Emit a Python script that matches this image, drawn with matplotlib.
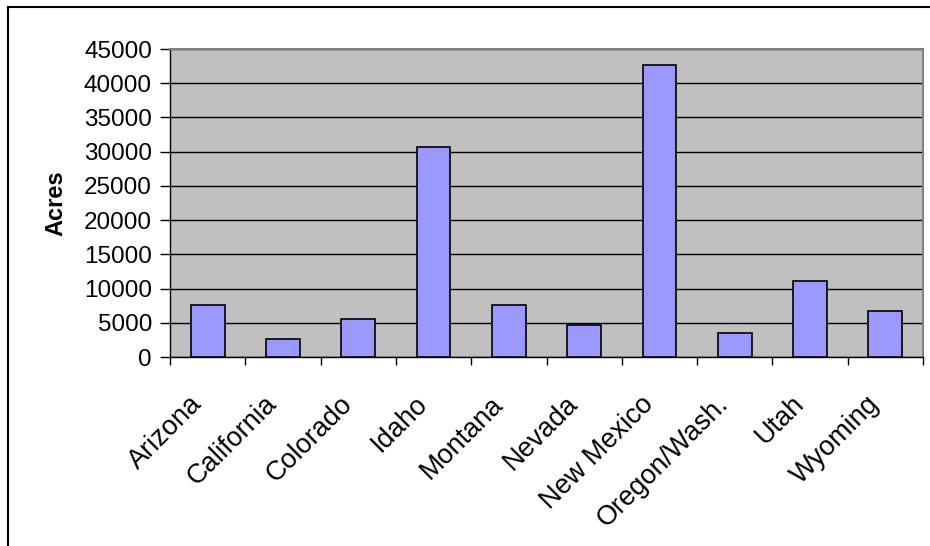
import matplotlib
matplotlib.use("Agg")
import matplotlib.pyplot as plt
import matplotlib.transforms as mtransforms
from matplotlib.lines import Line2D
import numpy as np

plt.rcParams['font.family'] = ['Liberation Sans', 'DejaVu Sans']

states = ['Arizona', 'California', 'Colorado', 'Idaho', 'Montana', 'Nevada',
          'New Mexico', 'Oregon/Wash.', 'Utah', 'Wyoming']
acres = [7600, 2650, 5550, 30650, 7600, 4650, 42650, 3500, 11050, 6700]
yticks = [0, 5000, 10000, 15000, 20000, 25000, 30000, 35000, 40000, 45000]

fig = plt.figure(figsize=(9.3, 5.46), dpi=100)
ax = fig.add_axes([170/930, 1 - 357/546, (923 - 170)/930, (357 - 49)/546])

x = np.arange(len(states))
ax.set_facecolor('#C0C0C0')
ax.bar(x, acres, width=0.45, color='#9999FF', edgecolor='black', linewidth=1.2, zorder=3)

ax.set_xlim(-0.5, len(states) - 0.5)
ax.set_ylim(0, 45000)
ax.set_yticks(yticks)
ax.set_yticklabels([str(v) for v in yticks], fontsize=17.5)
ax.yaxis.grid(True, color='black', linewidth=1, zorder=1)
ax.set_axisbelow(True)

ax.set_xticks(x)
ax.set_xticklabels(states, rotation=45, ha='right', va='center',
                   rotation_mode='anchor', fontsize=19.5)
ax.set_xticks(np.arange(-0.5, len(states), 1), minor=True)
ax.tick_params(axis='x', which='major', length=0, pad=31)
ax.tick_params(axis='x', which='minor', length=6, width=1, color='black')
ax.tick_params(axis='y', length=7, width=1, pad=6)

# nudge category labels a little to the left
offset = mtransforms.ScaledTranslation(-10/100, 0, fig.dpi_scale_trans)
for lbl in ax.get_xticklabels():
    lbl.set_transform(lbl.get_transform() + offset)

for s in ['top', 'right']:
    ax.spines[s].set_color('#808080')
    ax.spines[s].set_linewidth(1.5)
for s in ['left', 'bottom']:
    ax.spines[s].set_color('black')
    ax.spines[s].set_linewidth(1)

ax.set_ylabel('Acres', fontsize=17, fontweight='bold', labelpad=12)

# outer chart frame (only left and top edges visible)
fig.add_artist(Line2D([8/930, 8/930], [0, 1 - 7/546], color='black', linewidth=1.5))
fig.add_artist(Line2D([8/930, 1], [1 - 7/546, 1 - 7/546], color='black', linewidth=1.5))

fig.savefig('out.png', dpi=100, facecolor='white')
